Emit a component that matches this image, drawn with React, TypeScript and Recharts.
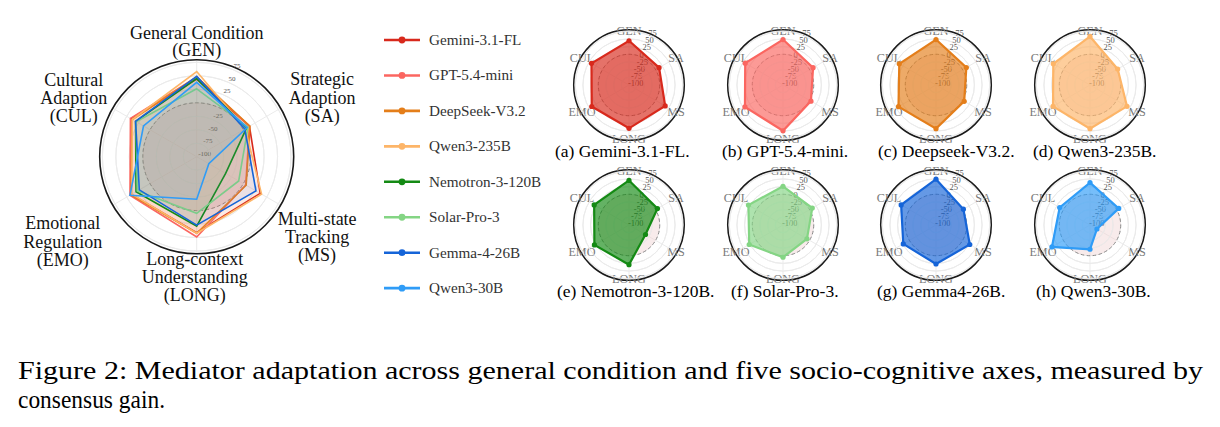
import React from 'react';
import { RadarChart, Radar, PolarGrid, PolarAngleAxis, PolarRadiusAxis } from 'recharts';

// ---------- data ----------
const AXES = ['GEN', 'SA', 'MS', 'LONG', 'EMO', 'CUL'];
const AXIS_TITLES = [
  ['General Condition', '(GEN)'],
  ['Strategic', 'Adaption', '(SA)'],
  ['Multi-state', 'Tracking', '(MS)'],
  ['Long-context', 'Understanding', '(LONG)'],
  ['Emotional', 'Regulation', '(EMO)'],
  ['Cultural', 'Adaption', '(CUL)'],
];
const MODELS = [
  'Gemini-3.1-FL',
  'GPT-5.4-mini',
  'DeepSeek-V3.2',
  'Qwen3-235B',
  'Nemotron-3-120B',
  'Solar-Pro-3',
  'Gemma-4-26B',
  'Qwen3-30B',
];
const KEYS = ['gemini', 'gpt', 'deepseek', 'qwen235', 'nemotron', 'solar', 'gemma', 'qwen30'];
const COLORS = ['#d8291c', '#fb6660', '#e47e1a', '#fdb568', '#148a14', '#84d584', '#1564d8', '#2f9cf7'];
const CAPTIONS = [
  '(a) Gemini-3.1-FL.',
  '(b) GPT-5.4-mini.',
  '(c) Deepseek-V3.2.',
  '(d) Qwen3-235B.',
  '(e) Nemotron-3-120B.',
  '(f) Solar-Pro-3.',
  '(g) Gemma4-26B.',
  '(h) Qwen3-30B.',
];
// values in order GEN, SA, MS, LONG, EMO, CUL
const gemini = [44, 13, 36, 41, 40, 41];
const gpt = [48, 13, 5, 49, 43, 42];
const deepseek = [48, 14, 6, 42, 41, 38];
const qwen235 = [58, 4, 39, 42, 39, 38];
const nemotron = [45, 7, -38, 29, 30, 31];
const solar = [26, 10, -10, 5, 27, 30];
const gemma = [49, 3, 27, 27, 23, 31];
const qwen30 = [38, 8, -74, -21, 43, 14];
const SERIES = [gemini, gpt, deepseek, qwen235, nemotron, solar, gemma, qwen30];

const RADIUS_DOMAIN = [-100, 80];
const RADIUS_TICKS = [0, -100, -75, -50, -25, 25, 50, 75];
const MAIN_HIDDEN_LABELS = [0];
const FIG_CAPTION = [
  'Figure 2: Mediator adaptation across general condition and five socio-cognitive axes, measured by',
  'consensus gain.',
];

const TABLE = AXES.map((axis, i) => {
  const row: Record<string, any> = { axis };
  KEYS.forEach((k, j) => {
    row[k] = SERIES[j][i];
  });
  return row;
});

// ---------- layout ----------
const SERIF = "'Liberation Serif', 'Times New Roman', serif";
const MAIN = { w: 360, h: 320, cx: 196.7, cy: 156.7, r: 97 };
const SMALL_COLS = [629, 783, 936, 1090];
const SMALL_ROWS = [85.3, 224.7];
const SMALL_R = 55.3;
const SW = 150;
const SH = 136;
const CAPTION_X = [555, 722, 878, 1033, 557, 731, 877, 1036];
const CAPTION_Y = [157, 297];
const MAIN_LABEL_OFF = [
  { dx: 0, dy: -12.5, lh: 17 },
  { dx: 34.5, dy: -19, lh: 18.5 },
  { dx: 29.5, dy: 16, lh: 18 },
  { dx: -2, dy: 3.5, lh: 18 },
  { dx: -43, dy: 20, lh: 18.5 },
  { dx: -32, dy: -18, lh: 18 },
];

const MainAngleTick = (props: any) => {
  const { x, y, payload } = props;
  const i = AXES.indexOf(payload.value);
  const o = MAIN_LABEL_OFF[i];
  const lines = AXIS_TITLES[i];
  return (
    <text x={x + o.dx} y={y + o.dy} textAnchor="middle" fontSize={18} fontFamily={SERIF} fill="#111">
      {lines.map((l, k) => (
        <tspan key={k} x={x + o.dx} dy={k === 0 ? 0 : o.lh}>
          {l}
        </tspan>
      ))}
    </text>
  );
};

const SmallAngleTick = (props: any) => {
  const { x, y, payload } = props;
  return (
    <text x={x} y={y + 4} textAnchor="middle" fontSize={12.2} fontFamily={SERIF} fill="#7a7a7a">
      {payload.value}
    </text>
  );
};

// radius tick: draws the grid ring for the tick value (radius from the library's scale) and its label
const makeRadiusTick = (cx: number, cy: number, fontSize: number, dx: number, dy: number, hidden: number[]) => (props: any) => {
  const { x, y, payload } = props;
  const v = payload.value;
  const r = Math.hypot(x - cx, y - cy);
  const ring =
    r < 0.5 ? null : v === 0 ? (
      <circle cx={cx} cy={cy} r={r} fill="#f0d2d2" fillOpacity={0.45} stroke="#8c8c8c" strokeWidth={1} strokeDasharray="3.5 2.5" />
    ) : (
      <circle cx={cx} cy={cy} r={r} fill="none" stroke="#ebebeb" strokeWidth={1} />
    );
  return (
    <g>
      {ring}
      {hidden.includes(v) ? null : (
        <text x={x + dx} y={y + dy} textAnchor="start" fontSize={fontSize} fontFamily={SERIF} fill="#555">
          {v}
        </text>
      )}
    </g>
  );
};

const MainRadiusTick = makeRadiusTick(MAIN.cx, MAIN.cy, 7, 1.5, -1, MAIN_HIDDEN_LABELS);
const SmallRadiusTick = makeRadiusTick(SW / 2, SH / 2, 8.5, -1, 1, []);

const layer: React.CSSProperties = { position: 'absolute', left: 0, top: 0 };

const MainChart = () => (
  <div style={{ position: 'absolute', left: 0, top: 0, width: MAIN.w, height: MAIN.h }}>
    <div style={layer}>
      <RadarChart width={MAIN.w} height={MAIN.h} cx={MAIN.cx} cy={MAIN.cy} outerRadius={MAIN.r} data={TABLE} margin={{ top: 0, right: 0, bottom: 0, left: 0 }}>
        <PolarGrid gridType="circle" stroke="#ebebeb" />
        <PolarAngleAxis dataKey="axis" axisLineType="circle" axisLine={{ stroke: '#1a1a1a', strokeWidth: 1.6 }} tickLine={false} tick={MainAngleTick} />
        <PolarRadiusAxis angle={68} type="number" domain={RADIUS_DOMAIN} ticks={RADIUS_TICKS} tick={MainRadiusTick} axisLine={false} tickLine={false} />
        <Radar dataKey={KEYS[0]} stroke="none" fill="none" dot={false} isAnimationActive={false} />
      </RadarChart>
    </div>
    <div style={layer}>
      <RadarChart width={MAIN.w} height={MAIN.h} cx={MAIN.cx} cy={MAIN.cy} outerRadius={MAIN.r} data={TABLE} margin={{ top: 0, right: 0, bottom: 0, left: 0 }}>
        <PolarAngleAxis dataKey="axis" tick={false} axisLine={false} tickLine={false} />
        <PolarRadiusAxis type="number" domain={RADIUS_DOMAIN} tick={false} axisLine={false} tickLine={false} />
        {KEYS.map((k, j) => (
          <Radar key={k} dataKey={k} stroke={COLORS[j]} strokeWidth={1.6} fill={COLORS[j]} fillOpacity={0.075} dot={false} isAnimationActive={false} />
        ))}
      </RadarChart>
    </div>
  </div>
);

const SmallChart = ({ idx }: { idx: number }) => {
  const k = KEYS[idx];
  const c = COLORS[idx];
  return (
    <div style={{ position: 'relative', width: SW, height: SH }}>
      <div style={layer}>
        <RadarChart width={SW} height={SH} cx={SW / 2} cy={SH / 2} outerRadius={SMALL_R} data={TABLE} margin={{ top: 0, right: 0, bottom: 0, left: 0 }}>
          <PolarGrid gridType="circle" stroke="#ebebeb" />
          <PolarAngleAxis dataKey="axis" axisLineType="circle" axisLine={{ stroke: '#1a1a1a', strokeWidth: 1.5 }} tickLine={false} tickSize={-1} tick={SmallAngleTick} />
          <PolarRadiusAxis angle={68} type="number" domain={RADIUS_DOMAIN} ticks={RADIUS_TICKS} tick={SmallRadiusTick} axisLine={false} tickLine={false} />
          <Radar dataKey={k} stroke="none" fill="none" dot={false} isAnimationActive={false} />
        </RadarChart>
      </div>
      <div style={layer}>
        <RadarChart width={SW} height={SH} cx={SW / 2} cy={SH / 2} outerRadius={SMALL_R} data={TABLE} margin={{ top: 0, right: 0, bottom: 0, left: 0 }}>
          <PolarAngleAxis dataKey="axis" tick={false} axisLine={false} tickLine={false} />
          <PolarRadiusAxis type="number" domain={RADIUS_DOMAIN} tick={false} axisLine={false} tickLine={false} />
          <Radar
            dataKey={k}
            stroke={c}
            strokeWidth={2.2}
            fill={c}
            fillOpacity={0.66}
            dot={{ r: 2.6, fill: c, stroke: c, strokeWidth: 0, fillOpacity: 1 }}
            isAnimationActive={false}
          />
        </RadarChart>
      </div>
    </div>
  );
};

const Legend = () => (
  <g>
    {MODELS.map((m, i) => {
      const y = 40 + i * 35.45;
      return (
        <g key={m}>
          <line x1={384} x2={420} y1={y} y2={y} stroke={COLORS[i]} strokeWidth={2.6} />
          <circle cx={402} cy={y} r={3.4} fill={COLORS[i]} />
          <text x={429} y={y + 5} fontSize={15.2} fontFamily={SERIF} fill="#333">
            {m}
          </text>
        </g>
      );
    })}
  </g>
);

export default function App() {
  return (
    <div style={{ position: 'absolute', left: 0, top: 0, width: 1220, height: 427, background: '#fff', overflow: 'hidden' }}>
      <MainChart />
      {MODELS.map((m, i) => {
        const cx = SMALL_COLS[i % 4];
        const cy = SMALL_ROWS[Math.floor(i / 4)];
        return (
          <div key={m} style={{ position: 'absolute', left: cx - SW / 2, top: cy - SH / 2 }}>
            <SmallChart idx={i} />
          </div>
        );
      })}
      <svg width={1220} height={427} style={{ position: 'absolute', left: 0, top: 0, pointerEvents: 'none' }}>
        <Legend />
        {CAPTIONS.map((c, i) => (
          <text key={c} x={CAPTION_X[i]} y={CAPTION_Y[Math.floor(i / 4)]} fontSize={17.5} fontFamily={SERIF} fill="#000">
            {c}
          </text>
        ))}
        <text x={18} y={378.5} fontSize={25.5} fontFamily={SERIF} fill="#000" textLength={1185} lengthAdjust="spacingAndGlyphs">
          {FIG_CAPTION[0]}
        </text>
        <text x={18} y={408} fontSize={25.5} fontFamily={SERIF} fill="#000" textLength={147} lengthAdjust="spacingAndGlyphs">
          {FIG_CAPTION[1]}
        </text>
      </svg>
    </div>
  );
}
